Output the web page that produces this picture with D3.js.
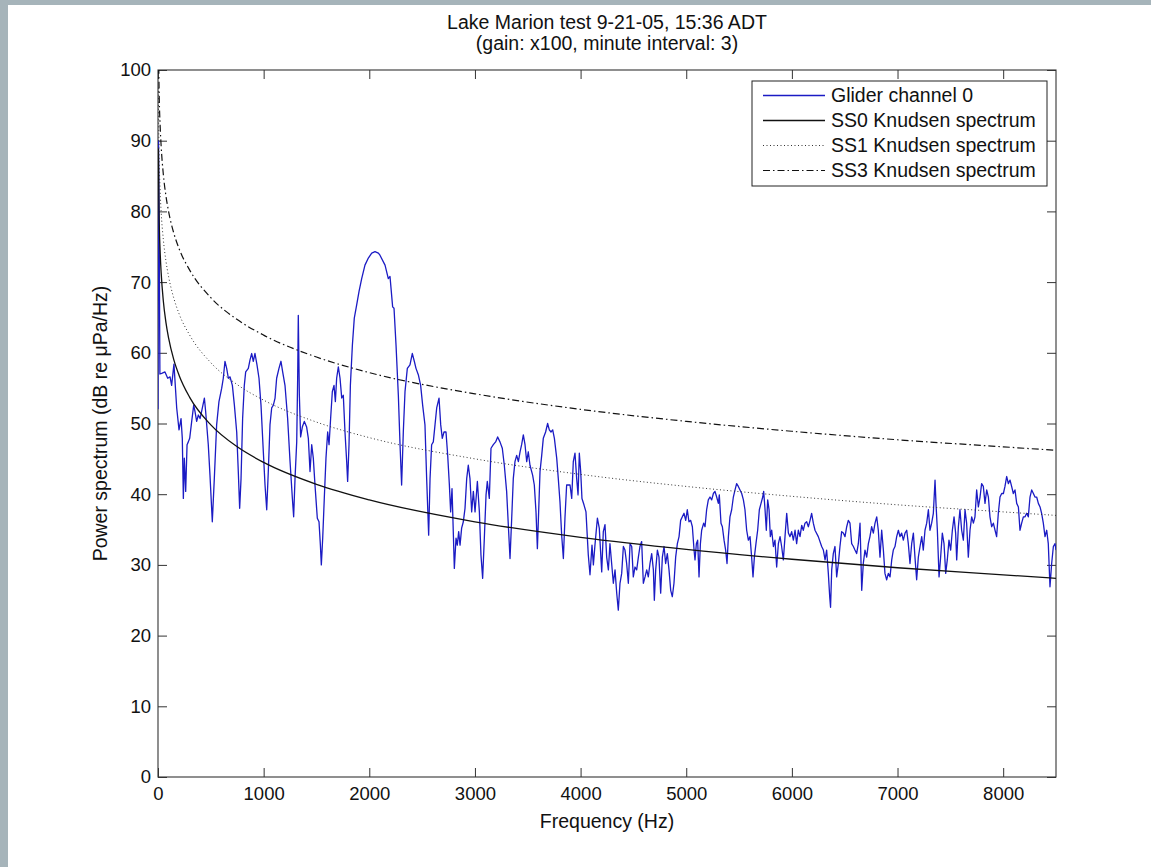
<!DOCTYPE html>
<html>
<head>
<meta charset="utf-8">
<script src="https://cdn.jsdelivr.net/npm/d3@7"></script>
<style>
  body { margin: 0; background: #fff; }
  svg { display: block; }
  text { font-family: "Liberation Sans", Arial, sans-serif; fill: #111; }
</style>
</head>
<body>
<script>
// chart text
var titleLines = ["Lake Marion test 9-21-05, 15:36 ADT", "(gain: x100, minute interval: 3)"];
var xLabel = "Frequency (Hz)";
var yLabel = "Power spectrum (dB re \u03bcPa/Hz)";
var legendNames = ["Glider channel 0", "SS0 Knudsen spectrum", "SS1 Knudsen spectrum", "SS3 Knudsen spectrum"];
var xTicks = [0, 1000, 2000, 3000, 4000, 5000, 6000, 7000, 8000];
var yTicks = [0, 10, 20, 30, 40, 50, 60, 70, 80, 90, 100];

// glider spectrum, [Hz, dB]
var glider = [
  [0,52],[5,90],[12,75],[18,57],
  [35,57.1],[66,57.3],[92,56.4],[114,56.6],[129,55.4],[151,58.4],[177,52.2],[199,49.1],[218,50.7],[230,47.9],
  [240,39.4],[249,45.1],[262,40.4],[275,47.0],[287,47.4],[300,47.9],[319,50.3],[338,52.6],[350,51.7],[366,50.3],
  [382,51.2],[398,50.7],[413,51.7],[439,53.6],[451,51.7],[476,47.0],[492,42.7],[514,36.1],[533,42.2],[555,49.8],
  [577,53.1],[603,55.0],[618,56.4],[634,58.8],[650,57.8],[666,56.4],[682,56.6],[704,55.4],[723,52.6],[745,48.8],
  [760,43.2],[773,38.0],[786,42.2],[801,50.7],[817,55.4],[830,57.3],[855,57.8],[871,59.0],[887,59.9],[902,58.8],
  [918,59.9],[937,58.3],[956,56.4],[975,52.6],[997,46.0],[1013,41.3],[1029,37.8],[1044,43.2],[1060,49.8],[1076,52.2],
  [1092,52.6],[1108,53.6],[1123,56.4],[1145,57.8],[1164,58.8],[1180,57.3],[1202,55.4],[1227,50.7],[1250,44.6],[1272,39.4],
  [1284,36.8],[1297,42.2],[1313,47.4],[1322,56.4],[1328,65.3],[1338,54.0],[1350,48.1],[1366,49.5],[1385,50.3],[1407,49.5],
  [1423,47.9],[1439,43.2],[1455,47.0],[1470,45.1],[1486,41.3],[1508,36.6],[1524,36.1],[1537,32.8],[1546,30.0],[1559,33.8],
  [1574,39.4],[1590,45.1],[1606,48.8],[1619,47.0],[1634,50.7],[1650,54.5],[1666,55.4],[1679,53.1],[1691,56.4],[1707,58.0],
  [1723,56.4],[1739,53.6],[1754,54.0],[1770,48.8],[1786,44.6],[1795,41.8],[1808,47.0],[1821,55.4],[1840,61.1],[1858,64.9],
  [1881,66.8],[1903,68.7],[1928,70.5],[1959,72.4],[1991,73.4],[2023,74.1],[2054,74.3],[2086,74.1],[2101,73.8],[2149,72.4],
  [2180,70.5],[2196,70.8],[2221,66.5],[2234,66.3],[2253,61.1],[2275,54.0],[2291,47.0],[2306,41.3],[2322,48.8],[2338,54.5],
  [2360,57.8],[2385,58.3],[2407,59.9],[2426,58.8],[2442,57.8],[2464,56.9],[2486,55.4],[2505,52.6],[2527,49.8],[2543,42.2],
  [2562,34.2],[2575,42.2],[2590,47.0],[2606,47.4],[2622,49.8],[2638,52.2],[2660,53.6],[2676,49.8],[2691,47.9],[2707,48.8],
  [2726,48.8],[2742,45.5],[2758,41.3],[2770,37.5],[2783,40.8],[2795,34.7],[2805,29.5],[2821,33.8],[2833,32.8],[2846,34.7],
  [2859,32.8],[2874,35.2],[2890,36.1],[2906,38.0],[2922,42.2],[2937,44.1],[2953,42.2],[2969,37.5],[2985,40.4],[3001,37.5],
  [3023,41.8],[3042,37.5],[3057,31.4],[3073,28.1],[3089,33.8],[3105,39.9],[3117,41.8],[3136,39.4],[3152,46.5],[3174,47.0],
  [3196,47.4],[3215,48.1],[3237,47.4],[3259,46.5],[3278,44.1],[3300,40.4],[3316,35.6],[3332,30.9],[3348,36.6],[3363,42.2],
  [3379,44.6],[3395,45.5],[3411,44.6],[3427,46.0],[3442,47.0],[3458,48.4],[3474,47.0],[3490,44.6],[3505,46.0],[3521,44.1],
  [3546,42.7],[3562,41.3],[3578,37.5],[3591,32.3],[3603,37.5],[3616,43.2],[3632,45.5],[3647,47.9],[3669,48.8],[3688,50.0],
  [3704,49.1],[3720,48.8],[3736,49.1],[3752,47.9],[3774,45.1],[3789,42.2],[3805,38.9],[3821,34.2],[3837,30.9],[3852,36.6],
  [3868,41.3],[3884,41.3],[3900,41.3],[3916,39.4],[3931,44.6],[3947,45.8],[3963,42.2],[3976,39.9],[3988,45.8],[4001,43.2],
  [4013,39.4],[4032,38.5],[4051,37.5],[4073,31.4],[4089,28.6],[4108,32.8],[4121,30.0],[4136,32.8],[4159,36.6],[4177,35.2],
  [4200,29.0],[4215,34.7],[4231,35.7],[4247,31.1],[4263,29.3],[4278,33.0],[4294,30.2],[4310,27.4],[4326,29.3],[4342,26.0],
  [4357,23.6],[4373,27.4],[4389,28.8],[4405,32.6],[4420,32.1],[4436,30.2],[4452,27.4],[4468,33.0],[4484,32.6],[4499,28.3],
  [4515,29.7],[4531,29.3],[4547,31.1],[4562,32.6],[4578,33.3],[4594,27.4],[4610,28.3],[4626,29.3],[4641,28.3],[4657,30.2],
  [4673,31.6],[4689,29.3],[4698,25.0],[4711,29.3],[4727,32.1],[4742,31.1],[4758,26.0],[4774,31.1],[4790,32.6],[4805,30.2],
  [4821,31.6],[4837,29.3],[4853,26.4],[4868,25.5],[4884,27.4],[4900,31.1],[4916,33.0],[4932,34.0],[4947,36.3],[4963,36.8],
  [4979,37.3],[4995,36.3],[5010,37.8],[5026,36.1],[5042,36.3],[5058,35.4],[5074,32.1],[5083,30.7],[5096,33.0],[5108,33.5],
  [5121,28.3],[5134,33.0],[5146,34.9],[5165,35.9],[5178,35.4],[5193,37.8],[5209,39.2],[5225,39.6],[5241,39.2],[5257,40.1],
  [5272,40.4],[5288,39.6],[5304,38.7],[5313,39.9],[5329,35.9],[5342,35.4],[5358,33.5],[5373,32.1],[5386,30.2],[5399,34.0],
  [5414,36.8],[5430,37.8],[5446,39.6],[5462,40.6],[5477,41.5],[5493,41.1],[5509,40.6],[5525,40.1],[5541,39.2],[5556,37.8],
  [5572,34.9],[5588,33.5],[5604,34.0],[5619,31.1],[5632,28.3],[5645,31.1],[5660,33.0],[5676,34.9],[5692,37.8],[5708,38.7],
  [5724,39.6],[5733,40.4],[5746,37.8],[5758,34.9],[5771,39.2],[5784,37.8],[5796,34.0],[5809,34.9],[5825,32.6],[5840,33.5],
  [5856,29.7],[5872,33.0],[5888,34.0],[5903,32.6],[5919,30.7],[5935,34.0],[5951,37.3],[5967,34.5],[5982,34.0],[5998,34.7],
  [6014,33.5],[6030,34.9],[6045,33.0],[6061,34.9],[6077,34.0],[6093,35.6],[6108,34.9],[6124,35.9],[6140,36.1],[6156,35.4],
  [6172,36.3],[6187,37.3],[6203,35.9],[6219,34.9],[6250,34.0],[6282,32.6],[6298,32.1],[6314,30.7],[6329,32.1],[6345,28.8],
  [6358,25.5],[6366,24.0],[6377,29.3],[6392,31.6],[6408,32.6],[6424,28.3],[6440,30.2],[6455,32.6],[6471,34.7],[6487,34.5],
  [6503,34.0],[6519,35.4],[6534,36.3],[6550,35.9],[6566,33.0],[6582,32.6],[6597,32.1],[6613,31.6],[6629,33.0],[6645,35.9],
  [6661,26.4],[6676,30.2],[6692,32.1],[6708,31.1],[6724,33.0],[6739,34.0],[6755,35.4],[6771,34.5],[6787,35.9],[6803,36.8],
  [6818,34.9],[6834,31.1],[6850,34.9],[6866,32.1],[6881,28.8],[6897,27.9],[6913,28.8],[6929,28.3],[6945,30.7],[6960,32.1],
  [6976,32.6],[6992,34.0],[7008,34.9],[7023,34.0],[7039,34.5],[7055,33.5],[7071,34.5],[7087,34.9],[7102,33.0],[7118,30.2],
  [7134,33.0],[7150,34.5],[7165,31.1],[7181,27.9],[7197,31.1],[7213,32.6],[7229,34.0],[7244,32.1],[7260,34.9],[7276,35.9],
  [7292,37.8],[7307,34.9],[7323,35.9],[7339,37.3],[7355,42.0],[7364,38.7],[7377,34.9],[7393,28.3],[7408,31.1],[7424,34.5],
  [7440,33.0],[7456,28.8],[7471,30.7],[7487,33.5],[7503,32.1],[7519,34.9],[7535,36.8],[7550,34.5],[7560,30.7],[7576,35.4],
  [7591,37.8],[7607,34.9],[7623,33.5],[7639,37.8],[7654,35.9],[7670,31.1],[7686,34.9],[7702,36.8],[7718,35.9],[7733,36.8],
  [7749,40.6],[7765,38.2],[7781,39.6],[7796,41.5],[7812,41.1],[7828,38.7],[7844,40.6],[7860,39.6],[7875,36.8],[7891,35.4],
  [7907,35.9],[7923,34.9],[7938,34.0],[7954,37.3],[7970,39.6],[7986,40.1],[8002,40.1],[8017,41.1],[8033,42.5],[8049,41.5],
  [8065,42.0],[8080,41.1],[8096,40.1],[8112,40.6],[8128,38.7],[8144,38.2],[8159,34.9],[8175,35.9],[8191,36.8],[8207,36.8],
  [8222,37.3],[8238,36.8],[8254,39.6],[8270,40.6],[8286,40.1],[8301,39.6],[8317,39.6],[8333,38.7],[8349,38.2],[8364,37.3],
  [8380,35.9],[8396,34.0],[8412,34.9],[8427,33.0],[8443,26.9],[8459,30.2],[8475,32.6],[8491,33.0],[8500,32.1]
];

// Knudsen sea-state curves, sampled off the plot
var knudsenHz = [3, 10, 20, 30, 50, 75, 100, 150, 200, 300, 500, 750, 1000, 1500, 2000, 3000, 4000, 5000, 6000, 7000, 8000, 8500];
var ss0Db = [88.9, 79.7, 74.4, 71.3, 67.4, 64.3, 62.1, 59.0, 56.8, 53.7, 49.8, 46.7, 44.5, 41.4, 39.2, 36.1, 33.9, 32.2, 30.8, 29.6, 28.6, 28.1];
var ss1Db = [97.5, 88.3, 83.0, 79.9, 76.1, 73.0, 70.8, 67.7, 65.5, 62.5, 58.6, 55.5, 53.3, 50.2, 48.0, 45.0, 42.8, 41.1, 39.7, 38.5, 37.5, 37.0];
var ss3Db = [106.6, 97.5, 92.2, 89.2, 85.3, 82.2, 80.0, 76.9, 74.7, 71.7, 67.8, 64.7, 62.5, 59.4, 57.2, 54.2, 52.0, 50.3, 48.9, 47.7, 46.7, 46.2];

var W = 1151, H = 867;
var plotL = 158, plotR = 1056, plotT = 70, plotB = 777;
var tickFs = 18.5, labelFs = 19.5;

var svg = d3.select("body").append("svg")
    .attr("width", W)
    .attr("height", H);

svg.append("rect").attr("width", W).attr("height", H).attr("fill", "#fff");
// grey frame strips of the screenshot
svg.append("rect").attr("width", W).attr("height", 5).attr("fill", "#a6b4ba");
svg.append("rect").attr("width", 8).attr("height", H).attr("fill", "#a6b4ba");

var x = d3.scaleLinear().domain([0, 8500]).range([plotL, plotR]);
var y = d3.scaleLinear().domain([0, 100]).range([plotB, plotT]);

svg.append("clipPath").attr("id", "plotClip")
  .append("rect")
    .attr("x", plotL).attr("y", plotT)
    .attr("width", plotR - plotL).attr("height", plotB - plotT);

// axes, ticks point inward on all four sides
function styleAxis(g) {
    g.selectAll(".domain").remove();
    g.selectAll(".tick line").attr("stroke", "#333");
    g.selectAll("text").style("font-size", tickFs + "px").attr("fill", "#111");
}

svg.append("g")
    .attr("transform", "translate(0," + plotB + ")")
    .call(d3.axisBottom(x).tickValues(xTicks).tickSize(-9).tickPadding(10).tickFormat(d3.format("d")))
    .call(styleAxis);
svg.append("g")
    .attr("transform", "translate(0," + plotT + ")")
    .call(d3.axisTop(x).tickValues(xTicks).tickSize(-9).tickFormat(""))
    .call(styleAxis);
svg.append("g")
    .attr("transform", "translate(" + plotL + ",0)")
    .call(d3.axisLeft(y).tickValues(yTicks).tickSize(-9).tickPadding(7))
    .call(styleAxis);
svg.append("g")
    .attr("transform", "translate(" + plotR + ",0)")
    .call(d3.axisRight(y).tickValues(yTicks).tickSize(-9).tickFormat(""))
    .call(styleAxis);

svg.append("rect")
    .attr("x", plotL).attr("y", plotT)
    .attr("width", plotR - plotL).attr("height", plotB - plotT)
    .attr("fill", "none")
    .attr("stroke", "#333")
    .attr("stroke-width", 1.1);

var plot = svg.append("g").attr("clip-path", "url(#plotClip)");

var line = d3.line()
    .x(d => x(d[0]))
    .y(d => y(d[1]));
var smooth = d3.line()
    .x(d => x(d[0]))
    .y(d => y(d[1]))
    .curve(d3.curveMonotoneX);

var styles = [
    { stroke: "#1b1bc4", dash: null, width: 1.3 },
    { stroke: "#111", dash: null, width: 1.3 },
    { stroke: "#333", dash: "1,2.5", width: 1 },
    { stroke: "#111", dash: "7,3,1.5,3", width: 1.2 }
];

plot.append("path")
    .datum(glider)
    .attr("d", line)
    .attr("fill", "none")
    .attr("stroke", styles[0].stroke)
    .attr("stroke-width", styles[0].width)
    .attr("stroke-linejoin", "round");

[ss0Db, ss1Db, ss3Db].forEach(function(vals, i) {
    var pts = knudsenHz.map((f, j) => [f, vals[j]]);
    var s = styles[i + 1];
    plot.append("path")
        .datum(pts)
        .attr("d", smooth)
        .attr("fill", "none")
        .attr("stroke", s.stroke)
        .attr("stroke-width", s.width)
        .attr("stroke-dasharray", s.dash);
});

// title
svg.selectAll(".title")
    .data(titleLines)
    .enter().append("text")
    .attr("class", "title")
    .attr("x", (plotL + plotR) / 2)
    .attr("y", (d, i) => 29 + i * 20.5)
    .attr("text-anchor", "middle")
    .style("font-size", labelFs + "px")
    .text(d => d);

svg.append("text")
    .attr("x", (plotL + plotR) / 2)
    .attr("y", 828)
    .attr("text-anchor", "middle")
    .style("font-size", labelFs + "px")
    .text(xLabel);

svg.append("text")
    .attr("transform", "translate(107," + ((plotT + plotB) / 2) + ") rotate(-90)")
    .attr("text-anchor", "middle")
    .style("font-size", labelFs + "px")
    .text(yLabel);

// legend
var legend = svg.append("g");
legend.append("rect")
    .attr("x", 752).attr("y", 81)
    .attr("width", 295).attr("height", 105)
    .attr("fill", "#fff")
    .attr("stroke", "#222")
    .attr("stroke-width", 1);

var rows = legend.selectAll(".row")
    .data(legendNames)
    .enter().append("g")
    .attr("transform", (d, i) => "translate(0," + (95.5 + i * 25) + ")");
rows.append("line")
    .attr("x1", 763).attr("x2", 825)
    .attr("stroke", (d, i) => styles[i].stroke)
    .attr("stroke-width", (d, i) => styles[i].width)
    .attr("stroke-dasharray", (d, i) => styles[i].dash);
rows.append("text")
    .attr("x", 831)
    .attr("dy", "0.35em")
    .style("font-size", labelFs + "px")
    .text(d => d);
</script>
</body>
</html>
